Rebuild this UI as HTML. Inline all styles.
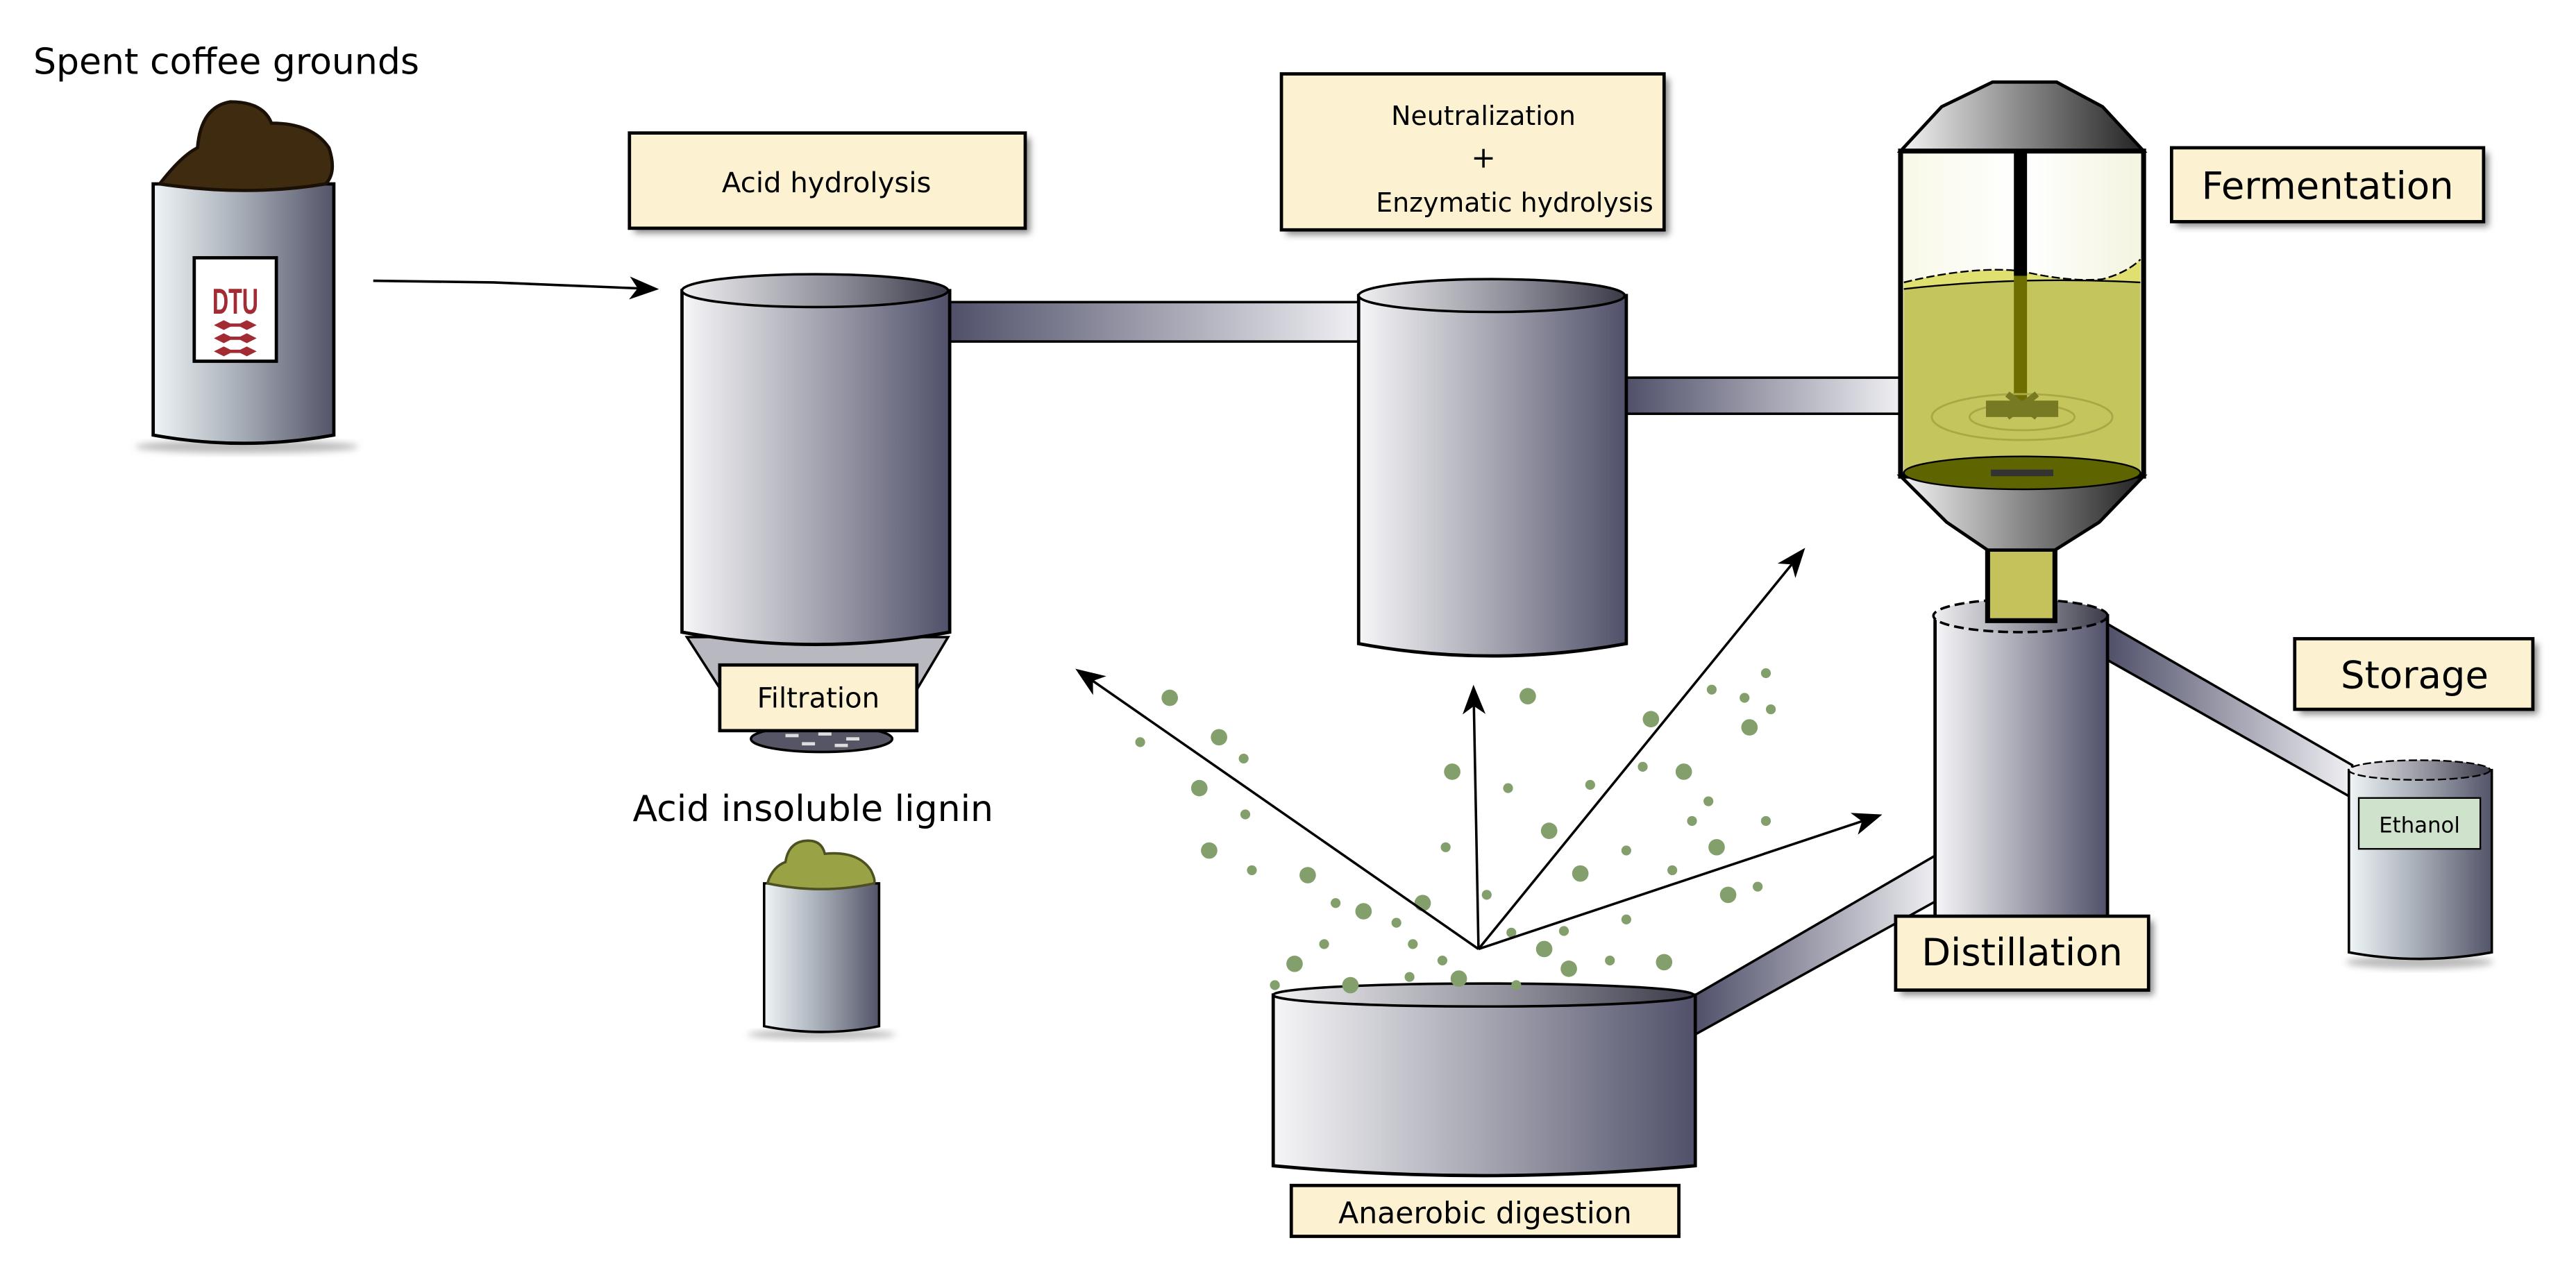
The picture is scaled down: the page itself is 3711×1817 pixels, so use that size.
<!DOCTYPE html>
<html><head><meta charset="utf-8"><style>
html,body{margin:0;padding:0;background:#fff;}
svg{display:block;}
text{font-family:"DejaVu Sans","Liberation Sans",sans-serif;fill:#000;}
</style></head><body>
<svg width="3711" height="1817" viewBox="0 0 1568 768" xmlns="http://www.w3.org/2000/svg">
<defs>
<linearGradient id="cyl" x1="0" x2="1" y1="0" y2="0">
<stop offset="0" stop-color="#f6f6f8"/><stop offset="0.5" stop-color="#a6a6b2"/><stop offset="1" stop-color="#50506a"/></linearGradient>
<linearGradient id="can" x1="0" x2="1"><stop offset="0" stop-color="#eef5f6"/><stop offset="0.5" stop-color="#a4aab4"/><stop offset="1" stop-color="#535468"/></linearGradient>
<linearGradient id="top" x1="0" x2="1"><stop offset="0" stop-color="#f0f0f2"/><stop offset="0.6" stop-color="#8a8a96"/><stop offset="1" stop-color="#3a3a48"/></linearGradient>
<linearGradient id="pipeL" x1="0" x2="1"><stop offset="0" stop-color="#50506a"/><stop offset="1" stop-color="#f0f0f4"/></linearGradient>
<linearGradient id="cap" x1="0" x2="1"><stop offset="0" stop-color="#f4f4f4"/><stop offset="0.5" stop-color="#888"/><stop offset="1" stop-color="#222"/></linearGradient>
<linearGradient id="air" x1="0" x2="1"><stop offset="0" stop-color="#f8f8e8"/><stop offset="0.5" stop-color="#ffffff"/><stop offset="1" stop-color="#f4f4e0"/></linearGradient>
<filter id="sh" x="-10%" y="-10%" width="130%" height="140%"><feGaussianBlur stdDeviation="2"/></filter>
<marker id="ah" markerWidth="18" markerHeight="14" refX="15" refY="7" orient="auto" markerUnits="userSpaceOnUse" viewBox="0 0 18 14"><path d="M0,0 L18,7 L0,14 L5,7 Z" fill="#000"/></marker>
</defs>

<text x="20" y="45" font-size="22">Spent coffee grounds</text>
<ellipse cx="150" cy="272" rx="68" ry="4" fill="#bbb" filter="url(#sh)"/>
<path d="M93,112 L93,265 Q148,275 203,265 L203,112 Z" fill="url(#can)" stroke="#000" stroke-width="2"/>
<path d="M97,112 Q110,95 120,90 Q122,65 140,62 Q160,62 165,75 Q190,75 200,90 Q205,105 198,112 Q150,120 97,112 Z" fill="#3f2b10" stroke="#1a1005" stroke-width="2"/>
<rect x="118" y="157" width="50" height="63" fill="#fff" stroke="#000" stroke-width="2"/>
<text x="143" y="191" font-size="22" font-weight="bold" text-anchor="middle" textLength="28" lengthAdjust="spacingAndGlyphs" style="fill:#a22b34;font-family:'Liberation Sans Narrow','Liberation Sans',sans-serif">DTU</text>
<g fill="#a22b34"><path d="M130,198 l6,-3 l4,2 h6 l4,-2 l6,3 l-6,3 l-4,-2 h-6 l-4,2 z"/><path d="M130,206 l6,-3 l4,2 h6 l4,-2 l6,3 l-6,3 l-4,-2 h-6 l-4,2 z"/><path d="M130,214 l6,-3 l4,2 h6 l4,-2 l6,3 l-6,3 l-4,-2 h-6 l-4,2 z"/></g>

<path d="M227,171 L300,172 L398,176" fill="none" stroke="#000" stroke-width="1.5" marker-end="url(#ah)"/>

<g>
<rect x="386" y="84" width="241" height="58" fill="#888" filter="url(#sh)"/>
<rect x="383" y="81" width="241" height="58" fill="#fcf1d0" stroke="#000" stroke-width="2"/>
<text x="503" y="117" font-size="17" text-anchor="middle">Acid hydrolysis</text>

<rect x="783" y="48" width="233" height="95" fill="#888" filter="url(#sh)"/>
<rect x="780" y="45" width="233" height="95" fill="#fcf1d0" stroke="#000" stroke-width="2"/>
<text x="903" y="76" font-size="16" text-anchor="middle">Neutralization</text>
<text x="903" y="102" font-size="18" text-anchor="middle">+</text>
<text x="922" y="129" font-size="16" text-anchor="middle">Enzymatic hydrolysis</text>

<rect x="1325" y="93" width="190" height="45" fill="#888" filter="url(#sh)"/>
<rect x="1322" y="90" width="190" height="45" fill="#fcf1d0" stroke="#000" stroke-width="2"/>
<text x="1417" y="121" font-size="23" text-anchor="middle">Fermentation</text>

<rect x="1400" y="392" width="145" height="43" fill="#888" filter="url(#sh)"/>
<rect x="1397" y="389" width="145" height="43" fill="#fcf1d0" stroke="#000" stroke-width="2"/>
<text x="1470" y="419" font-size="23" text-anchor="middle">Storage</text>
</g>

<rect x="578" y="184" width="250" height="24" fill="url(#pipeL)" stroke="#000" stroke-width="1.5"/>
<rect x="990" y="230" width="168" height="22" fill="url(#pipeL)" stroke="#000" stroke-width="1.5"/>
<path d="M1283,380 L1432,466 L1432,486 L1283,402 Z" fill="url(#pipeL)" stroke="#000" stroke-width="1.5"/>
<path d="M1032,606 L1180,520 L1180,548 L1032,630 Z" fill="url(#pipeL)" stroke="#000" stroke-width="1.5"/>

<path d="M445,430 L418,388 L577,388 L552,430 Z" fill="#b8b8c0" stroke="#000" stroke-width="1.5"/>
<ellipse cx="500" cy="450" rx="43" ry="8" fill="#555566" stroke="#000" stroke-width="1.5"/>
<g fill="#ddd"><rect x="478" y="447" width="8" height="2"/><rect x="498" y="446" width="8" height="2"/><rect x="515" y="449" width="8" height="2"/><rect x="488" y="452" width="8" height="2"/><rect x="508" y="453" width="8" height="2"/></g>
<path d="M415,177 L415,385 Q496,400 578,385 L578,177 Z" fill="url(#cyl)" stroke="#000" stroke-width="2"/>
<ellipse cx="496" cy="177" rx="81" ry="10" fill="url(#top)" stroke="#000" stroke-width="1.5"/>
<rect x="438" y="405" width="120" height="40" fill="#fcf1d0" stroke="#000" stroke-width="2"/>
<text x="498" y="431" font-size="17" text-anchor="middle">Filtration</text>

<text x="385" y="500" font-size="22">Acid insoluble lignin</text>
<ellipse cx="500" cy="630" rx="45" ry="3" fill="#bbb" filter="url(#sh)"/>
<path d="M465,538 L465,625 Q500,632 535,625 L535,538 Z" fill="url(#can)" stroke="#000" stroke-width="1.5"/>
<path d="M467,538 Q470,528 478,525 Q480,512 492,512 Q500,512 502,520 Q522,518 530,530 Q533,536 532,538 Q500,545 467,538 Z" fill="#9aa246" stroke="#4d5020" stroke-width="1.5"/>

<path d="M827,180 L827,392 Q908,407 990,392 L990,180 Z" fill="url(#cyl)" stroke="#000" stroke-width="2"/>
<ellipse cx="908" cy="180" rx="81" ry="10" fill="url(#top)" stroke="#000" stroke-width="1.5"/>

<path d="M1178,375 L1178,565 L1283,565 L1283,375 Z" fill="url(#cyl)" stroke="#000" stroke-width="2"/>
<ellipse cx="1230" cy="375" rx="53" ry="10" fill="url(#top)" stroke="#000" stroke-width="1.5" stroke-dasharray="6 3"/>
<rect x="1157" y="561" width="154" height="45" fill="#888" filter="url(#sh)"/>
<rect x="1154" y="558" width="154" height="45" fill="#fcf1d0" stroke="#000" stroke-width="2"/>
<text x="1231" y="588" font-size="23" text-anchor="middle">Distillation</text>

<rect x="1210" y="330" width="41" height="48" fill="#c5c25c" stroke="#000" stroke-width="3"/>
<path d="M1157,290 L1185,318 L1210,335 L1251,335 L1278,318 L1305,290 Z" fill="url(#cap)" stroke="#000" stroke-width="2"/>
<path d="M1213,50 L1252,50 L1280,65 L1305,92 L1157,92 L1182,65 Z" fill="url(#cap)" stroke="#000" stroke-width="2"/>
<rect x="1157" y="92" width="148" height="198" fill="url(#air)" stroke="#000" stroke-width="3"/>
<path d="M1159,172 Q1200,162 1230,165 Q1260,172 1280,170 Q1295,166 1303,158 L1303,288 L1159,288 Z" fill="#e0e070"/>
<path d="M1159,176 Q1230,168 1303,172 L1303,288 L1159,288 Z" fill="#c5c55e"/>
<path d="M1159,172 Q1200,162 1230,165 Q1260,172 1280,170 Q1295,166 1303,158" fill="none" stroke="#000" stroke-width="1" stroke-dasharray="5 2"/>
<path d="M1159,176 Q1230,168 1303,172" fill="none" stroke="#000" stroke-width="1"/>
<ellipse cx="1231" cy="288" rx="72" ry="10" fill="#5e6400" stroke="#000" stroke-width="1"/>
<path d="M1212,288 h38" stroke="#333" stroke-width="4"/>
<rect x="1226" y="92" width="8" height="76" fill="#000"/>
<rect x="1226" y="168" width="8" height="80" fill="#6e6e00"/>
<g fill="none" stroke="#a9a846" stroke-width="1.2"><ellipse cx="1231" cy="254" rx="55" ry="14"/><ellipse cx="1231" cy="254" rx="32" ry="8"/></g>
<path d="M1211,246 h40 v6 h-40 z M1222,240 l18,14 M1240,240 l-18,14" stroke="#777a22" stroke-width="4" fill="#777a22"/>

<ellipse cx="1473" cy="586" rx="45" ry="4" fill="#bbb" filter="url(#sh)"/>
<path d="M1430,469 L1430,580 Q1473,588 1517,580 L1517,469 Z" fill="url(#can)" stroke="#000" stroke-width="1.5"/>
<ellipse cx="1473" cy="469" rx="43" ry="6" fill="url(#top)" stroke="#000" stroke-width="1" stroke-dasharray="5 2"/>
<rect x="1436" y="486" width="74" height="31" fill="#cfe3cc" stroke="#000" stroke-width="1"/>
<text x="1473" y="507" font-size="13" text-anchor="middle">Ethanol</text>

<path d="M775,606 L775,710 Q903,722 1032,710 L1032,606 Z" fill="url(#cyl)" stroke="#000" stroke-width="2"/>
<ellipse cx="903" cy="606" rx="128" ry="7" fill="url(#top)" stroke="#000" stroke-width="1.5"/>
<rect x="786" y="722" width="236" height="31" fill="#fcf1d0" stroke="#000" stroke-width="2"/>
<text x="904" y="745" font-size="18" text-anchor="middle">Anaerobic digestion</text>

<g fill="#83a06c">
<circle cx="712" cy="425" r="5"/><circle cx="694" cy="452" r="3"/><circle cx="742" cy="449" r="5"/><circle cx="730" cy="480" r="5"/><circle cx="757" cy="462" r="3"/><circle cx="758" cy="496" r="3"/><circle cx="736" cy="518" r="5"/><circle cx="762" cy="530" r="3"/><circle cx="796" cy="533" r="5"/><circle cx="788" cy="587" r="5"/><circle cx="806" cy="575" r="3"/><circle cx="822" cy="600" r="5"/><circle cx="830" cy="555" r="5"/><circle cx="850" cy="562" r="3"/><circle cx="860" cy="575" r="3"/><circle cx="866" cy="550" r="5"/><circle cx="878" cy="585" r="3"/><circle cx="888" cy="596" r="5"/><circle cx="884" cy="470" r="5"/><circle cx="880" cy="516" r="3"/><circle cx="930" cy="424" r="5"/><circle cx="905" cy="545" r="3"/><circle cx="920" cy="568" r="3"/><circle cx="940" cy="578" r="5"/><circle cx="955" cy="590" r="5"/><circle cx="980" cy="585" r="3"/><circle cx="918" cy="480" r="3"/><circle cx="943" cy="506" r="5"/><circle cx="968" cy="478" r="3"/><circle cx="962" cy="532" r="5"/><circle cx="990" cy="518" r="3"/><circle cx="1005" cy="438" r="5"/><circle cx="1000" cy="467" r="3"/><circle cx="1025" cy="470" r="5"/><circle cx="1018" cy="530" r="3"/><circle cx="1040" cy="488" r="3"/><circle cx="1042" cy="420" r="3"/><circle cx="1062" cy="425" r="3"/><circle cx="1065" cy="443" r="5"/><circle cx="1075" cy="410" r="3"/><circle cx="1078" cy="432" r="3"/><circle cx="1045" cy="516" r="5"/><circle cx="1052" cy="545" r="5"/><circle cx="1070" cy="540" r="3"/><circle cx="1013" cy="586" r="5"/><circle cx="1030" cy="500" r="3"/><circle cx="1075" cy="500" r="3"/><circle cx="858" cy="595" r="3"/><circle cx="952" cy="567" r="3"/><circle cx="923" cy="600" r="3"/><circle cx="813" cy="550" r="3"/><circle cx="776" cy="600" r="3"/><circle cx="990" cy="560" r="3"/></g>

<g stroke="#000" stroke-width="1.5" fill="none">
<line x1="900" y1="578" x2="657" y2="409" marker-end="url(#ah)"/>
<line x1="900" y1="578" x2="897" y2="420" marker-end="url(#ah)"/>
<line x1="900" y1="578" x2="1097" y2="336" marker-end="url(#ah)"/>
<line x1="900" y1="578" x2="1143" y2="497" marker-end="url(#ah)"/>
</g>
</svg>
</body></html>
